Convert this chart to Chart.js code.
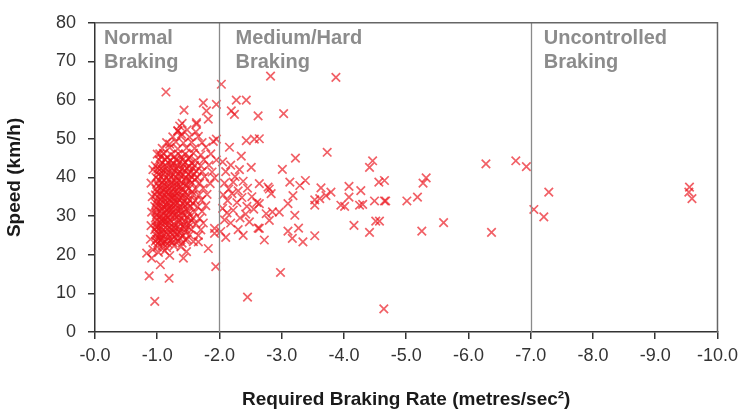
<!DOCTYPE html>
<html>
<head>
<meta charset="utf-8">
<script src="https://cdn.jsdelivr.net/npm/chart.js@4/dist/chart.umd.min.js"></script>
<style>
  html, body { margin: 0; padding: 0; background: #fff; }
  #wrap { width: 744px; height: 419px; position: relative; }
</style>
</head>
<body>
<div id="wrap"><canvas id="brakeChart"></canvas></div>
<script>
// ============ DATA ============
// x = required braking rate (m/s^2, negative), y = speed (km/h)
const normalBraking = [
  // dense core
  [-1.00,22.0],[-1.08,22.2],[-1.15,21.8],[-1.27,22.3],[-1.38,22.0],
  [-0.97,23.5],[-1.05,23.7],[-1.12,23.4],[-1.21,23.6],[-1.33,23.5],[-1.45,23.8],[-1.58,23.4],
  [-0.98,25.0],[-1.04,25.2],[-1.10,24.9],[-1.18,25.1],[-1.25,25.0],[-1.32,25.3],[-1.41,24.8],[-1.52,25.1],[-1.66,25.0],
  [-0.96,26.5],[-1.02,26.7],[-1.09,26.4],[-1.16,26.6],[-1.23,26.5],[-1.30,26.8],[-1.37,26.3],[-1.46,26.6],[-1.55,26.5],[-1.70,26.4],
  [-0.99,28.0],[-1.06,28.2],[-1.13,27.9],[-1.20,28.1],[-1.27,28.0],[-1.35,28.3],[-1.43,27.8],[-1.51,28.1],[-1.62,28.0],[-1.74,28.2],
  [-0.97,29.5],[-1.03,29.7],[-1.10,29.4],[-1.17,29.6],[-1.24,29.5],[-1.31,29.8],[-1.39,29.3],[-1.48,29.6],[-1.57,29.5],[-1.68,29.4],
  [-0.98,31.0],[-1.05,31.2],[-1.12,30.9],[-1.19,31.1],[-1.26,31.0],[-1.33,31.3],[-1.41,30.8],[-1.50,31.1],[-1.60,31.0],[-1.72,31.2],
  [-0.96,32.5],[-1.02,32.7],[-1.09,32.4],[-1.15,32.6],[-1.22,32.5],[-1.29,32.8],[-1.37,32.3],[-1.45,32.6],[-1.54,32.5],[-1.65,32.4],[-1.78,32.7],
  [-0.99,34.0],[-1.06,34.2],[-1.13,33.9],[-1.20,34.1],[-1.28,34.0],[-1.35,34.3],[-1.43,33.8],[-1.52,34.1],[-1.61,34.0],[-1.71,34.2],
  [-0.97,35.5],[-1.04,35.7],[-1.11,35.4],[-1.18,35.6],[-1.25,35.5],[-1.32,35.8],[-1.40,35.3],[-1.48,35.6],[-1.57,35.5],[-1.67,35.4],[-1.80,35.6],
  [-0.98,37.0],[-1.05,37.2],[-1.12,36.9],[-1.19,37.1],[-1.27,37.0],[-1.34,37.3],[-1.42,36.8],[-1.51,37.1],[-1.62,37.0],[-1.74,37.2],
  [-1.00,38.5],[-1.08,38.7],[-1.16,38.4],[-1.23,38.6],[-1.31,38.5],[-1.39,38.8],[-1.47,38.3],[-1.56,38.6],[-1.68,38.5],[-1.85,38.4],
  [-0.98,40.0],[-1.06,40.2],[-1.14,39.9],[-1.22,40.1],[-1.30,40.0],[-1.38,40.3],[-1.46,39.8],[-1.55,40.1],[-1.64,40.0],[-1.76,40.2],[-1.92,39.9],
  [-1.01,41.5],[-1.10,41.7],[-1.19,41.4],[-1.28,41.6],[-1.36,41.5],[-1.44,41.8],[-1.53,41.3],[-1.63,41.6],[-1.72,41.5],[-1.88,41.4],
  [-0.97,43.0],[-1.05,43.2],[-1.15,42.9],[-1.24,43.1],[-1.33,43.0],[-1.42,43.3],[-1.51,42.8],[-1.60,43.1],[-1.70,43.0],[-1.83,43.2],
  [-1.03,44.5],[-1.12,44.7],[-1.21,44.4],[-1.30,44.6],[-1.40,44.5],[-1.50,44.8],[-1.62,44.3],[-1.75,44.6],[-1.95,44.5],
  [-1.00,46.0],[-1.10,46.2],[-1.22,45.9],[-1.34,46.1],[-1.45,46.0],[-1.58,46.3],[-1.70,45.8],[-1.86,46.1],
  [-1.08,47.5],[-1.20,47.7],[-1.33,47.4],[-1.47,47.6],[-1.60,47.5],[-1.78,47.8],
  [-1.15,49.0],[-1.30,49.2],[-1.42,48.9],[-1.55,49.1],[-1.72,49.0],[-1.90,49.3],
  [-1.25,50.5],[-1.38,50.7],[-1.52,50.4],[-1.66,50.6],
  [-1.33,52.0],[-1.48,52.3],[-1.62,51.8],
  [-1.40,54.0],[-1.63,54.2],
  // extra fill in the solid part
  [-1.01,27.3],[-1.07,30.3],[-1.14,33.2],[-1.21,36.2],[-1.29,39.3],[-1.03,24.3],[-1.11,28.8],[-1.18,31.8],
  [-1.26,34.8],[-1.34,27.3],[-1.42,30.3],[-1.49,33.2],[-1.56,36.3],[-1.36,24.3],[-1.46,39.2],[-1.06,42.3],
  [-1.01,23.0],[-1.09,23.0],[-1.17,22.9],[-1.25,23.1],[-1.40,23.0],
  [-0.99,24.0],[-1.07,24.1],[-1.15,23.9],[-1.23,24.0],[-1.30,24.2],[-1.48,24.0],
  [-1.00,25.8],[-1.07,25.9],[-1.14,25.7],[-1.21,25.8],[-1.28,25.9],[-1.36,25.7],[-1.45,25.8],
  [-0.98,27.2],[-1.06,27.3],[-1.19,27.1],[-1.26,27.2],[-1.41,27.3],[-1.50,27.1],
  [-1.00,28.8],[-1.07,28.9],[-1.14,28.7],[-1.21,28.8],[-1.35,28.9],[-1.45,28.7],[-1.55,28.8],
  [-0.99,30.3],[-1.14,30.2],[-1.21,30.4],[-1.28,30.3],[-1.35,30.2],[-1.51,30.4],
  [-1.00,31.8],[-1.08,31.9],[-1.15,31.7],[-1.23,31.8],[-1.30,31.9],[-1.38,31.7],[-1.46,31.8],
  [-0.98,33.3],[-1.05,33.4],[-1.19,33.2],[-1.26,33.3],[-1.33,33.4],[-1.41,33.2],[-1.57,33.3],
  [-1.01,34.8],[-1.09,34.9],[-1.16,34.7],[-1.23,34.8],[-1.31,34.9],[-1.39,34.7],[-1.47,34.8],
  [-0.99,36.3],[-1.07,36.4],[-1.14,36.2],[-1.28,36.3],[-1.35,36.4],[-1.44,36.2],
  [-1.02,37.8],[-1.09,37.9],[-1.16,37.7],[-1.24,37.8],[-1.31,37.9],[-1.38,37.7],[-1.46,37.8],
  [-1.03,39.3],[-1.11,39.2],[-1.19,39.4],[-1.35,39.2],[-1.52,39.3],[-1.60,39.4],
  [-1.02,40.8],[-1.10,40.9],[-1.18,40.7],[-1.26,40.8],[-1.34,40.9],[-1.42,40.7],[-1.50,40.8],[-1.59,40.9],
  [-1.01,42.3],[-1.14,42.2],[-1.23,42.4],[-1.31,42.3],[-1.40,42.2],[-1.48,42.4],[-1.57,42.3],
  [-1.08,43.8],[-1.17,43.9],[-1.26,43.7],[-1.35,43.8],[-1.45,43.9],[-1.55,43.7],
  [-1.06,45.3],[-1.16,45.2],[-1.28,45.4],[-1.39,45.3],[-1.52,45.2],
  // lower fringe
  [-0.83,20.4],[-0.91,19.1],[-0.93,21.3],[-1.02,20.6],[-1.12,21.0],[-1.20,19.8],[-1.42,19.1],[-1.47,20.8],
  [-1.82,21.6],[-1.66,23.3],[-1.05,17.4],[-0.87,14.5],[-1.19,13.9],[-0.96,7.9],[-1.94,16.9],[-1.92,26.8],
  [-1.92,25.5],[-0.89,24.0],[-0.90,27.5],[-0.91,31.0],[-0.92,35.0],[-0.90,38.5],[-0.93,42.0],
  // upper fringe
  [-1.14,62.1],[-1.74,59.3],[-1.95,58.9],[-1.43,57.4],[-1.79,57.2],[-1.82,55.1],[-1.63,53.8],[-1.36,53.3],
  [-1.33,52.1],[-1.39,51.2],[-1.95,49.9],[-1.04,46.1],[-1.20,48.6]
];

const mediumBraking = [
  [-2.03,64.1],[-2.05,44.0],[-2.10,41.5],[-2.18,43.2],[-2.25,40.2],[-2.32,42.0],[-2.08,38.5],[-2.15,37.0],
  [-2.22,38.8],[-2.30,36.5],[-2.38,39.0],[-2.45,37.2],[-2.06,35.5],[-2.13,34.0],[-2.20,35.8],[-2.28,33.5],
  [-2.36,34.8],[-2.44,32.5],[-2.52,35.0],[-2.05,32.0],[-2.12,30.8],[-2.22,31.5],[-2.33,29.5],[-2.42,30.5],
  [-2.55,31.8],[-2.08,29.0],[-2.18,28.2],[-2.48,28.5],[-2.60,33.5],[-2.35,45.5],[-2.16,47.8],[-2.43,49.5],
  [-2.56,49.9],[-2.51,42.6],[-2.19,57.2],[-2.24,56.3],[-2.27,60.0],[-2.43,60.0],[-2.62,55.9],[-2.64,50.0],
  [-2.02,26.0],[-2.10,24.5],[-2.30,26.5],[-2.38,25.0],
  [-2.82,66.2],[-3.87,65.9],[-3.03,56.5],[-3.73,46.5],[-3.22,45.0],[-3.01,42.1],[-4.46,44.3],[-4.41,42.6],
  [-6.28,43.5],[-6.76,44.3],[-6.93,42.8],[-5.32,39.9],[-5.27,38.5],[-4.56,38.8],[-4.65,39.2],[-3.13,38.8],
  [-3.29,37.9],[-3.38,39.2],[-2.78,37.5],[-2.83,35.8],[-2.64,38.4],[-3.63,37.3],[-3.79,36.2],[-3.18,35.3],
  [-4.08,37.7],[-4.27,36.6],[-4.08,34.9],[-3.53,34.2],[-3.61,34.5],[-3.71,35.3],[-3.53,32.8],[-3.10,33.2],
  [-2.64,33.2],[-2.75,30.6],[-2.85,31.1],[-2.80,28.9],[-3.21,30.2],[-3.95,32.8],[-4.01,32.5],[-4.25,32.8],
  [-4.30,33.0],[-4.49,33.9],[-4.65,33.9],[-4.67,33.9],[-5.01,33.9],[-5.18,34.9],[-4.16,27.6],[-4.41,25.8],
  [-4.51,28.7],[-4.57,28.7],[-5.25,26.1],[-5.60,28.3],[-6.37,25.8],[-3.10,26.1],[-3.17,24.2],[-3.27,26.9],
  [-3.34,23.3],[-3.53,24.9],[-2.72,23.8],[-2.64,26.8],[-2.98,15.4],[-4.64,6.0],[-2.45,9.0],[-2.80,37.0],
  [-2.96,31.0],[-2.62,26.9]
];

const uncontrolledBraking = [
  [-7.29,36.2],[-7.05,31.7],[-7.21,29.8],[-9.55,37.5],[-9.54,36.2],[-9.59,34.5]
];

const zoneBounds = [-2.0, -7.0];
const zoneLabels = [
  { x: 0.0, dx: 9, lines: ['Normal', 'Braking'] },
  { x: -2.0, dx: 16, lines: ['Medium/Hard', 'Braking'] },
  { x: -7.0, dx: 13, lines: ['Uncontrolled', 'Braking'] }
];

const FONT = "'Liberation Sans', Arial, sans-serif";
Chart.defaults.font.family = FONT;
Chart.defaults.color = '#333';

// zone dividers, frame and zone captions
const zonePlugin = {
  id: 'zones',
  afterDatasetsDraw(chart) {
    const { ctx, chartArea: a, scales: { x } } = chart;
    ctx.save();
    ctx.strokeStyle = '#8a8a8a';
    ctx.lineWidth = 1.3;
    zoneBounds.forEach(v => {
      const px = Math.round(x.getPixelForValue(v)) + 0.5;
      ctx.beginPath(); ctx.moveTo(px, a.top); ctx.lineTo(px, a.bottom); ctx.stroke();
    });
    ctx.strokeStyle = '#666';
    ctx.lineWidth = 1.5;
    ctx.beginPath();
    ctx.moveTo(a.left, a.top); ctx.lineTo(a.right, a.top); ctx.lineTo(a.right, a.bottom);
    ctx.stroke();
    ctx.fillStyle = '#8c8c8c';
    ctx.font = 'bold 20px ' + FONT;
    ctx.textBaseline = 'middle';
    zoneLabels.forEach(z => {
      const px = x.getPixelForValue(z.x) + z.dx;
      z.lines.forEach((t, i) => ctx.fillText(t, px, a.top + 16 + i * 24));
    });
    ctx.restore();
  }
};

const mk = (pts) => pts.map(p => ({ x: p[0], y: p[1] }));
const markerStyle = {
  pointStyle: 'crossRot',
  pointRadius: 6,
  pointBorderWidth: 1.7,
  borderColor: 'rgba(235,20,30,0.68)',
  backgroundColor: 'rgba(235,20,30,0.68)',
  showLine: false
};

new Chart(document.getElementById('brakeChart'), {
  type: 'scatter',
  data: {
    datasets: [
      { label: 'Normal', data: mk(normalBraking), ...markerStyle },
      { label: 'Medium/Hard', data: mk(mediumBraking), ...markerStyle },
      { label: 'Uncontrolled', data: mk(uncontrolledBraking), ...markerStyle }
    ]
  },
  options: {
    responsive: true,
    maintainAspectRatio: false,
    animation: false,
    layout: { padding: { top: 21, right: 25, bottom: 0, left: 0 } },
    plugins: { legend: { display: false }, tooltip: { enabled: false } },
    scales: {
      x: {
        type: 'linear',
        min: -10, max: 0, reverse: true,
        afterFit: s => { s.height = 87; },
        ticks: {
          stepSize: 1,
          font: { size: 18 },
          color: '#333',
          padding: 6,
          maxRotation: 0,
          callback: v => '-' + Math.abs(v).toFixed(1)
        },
        grid: { drawOnChartArea: false, drawTicks: true, tickLength: 7, color: '#333', lineWidth: 1.5 },
        border: { color: '#333', width: 1.5 },
        title: {
          display: true,
          text: 'Required Braking Rate (metres/sec²)',
          font: { size: 19, weight: 'bold' },
          color: '#1a1a1a',
          padding: { top: 0, bottom: 8 }
        }
      },
      y: {
        min: 0, max: 80,
        afterFit: s => { s.width = 95; },
        ticks: { stepSize: 10, font: { size: 18 }, color: '#333', padding: 12 },
        grid: { drawOnChartArea: false, drawTicks: true, tickLength: 7, color: '#333', lineWidth: 1.5 },
        border: { color: '#333', width: 1.5 },
        title: {
          display: true,
          text: 'Speed (km/h)',
          font: { size: 19, weight: 'bold' },
          color: '#1a1a1a',
          padding: { top: 3, bottom: 0 }
        }
      }
    }
  },
  plugins: [zonePlugin]
});
</script>
</body>
</html>
